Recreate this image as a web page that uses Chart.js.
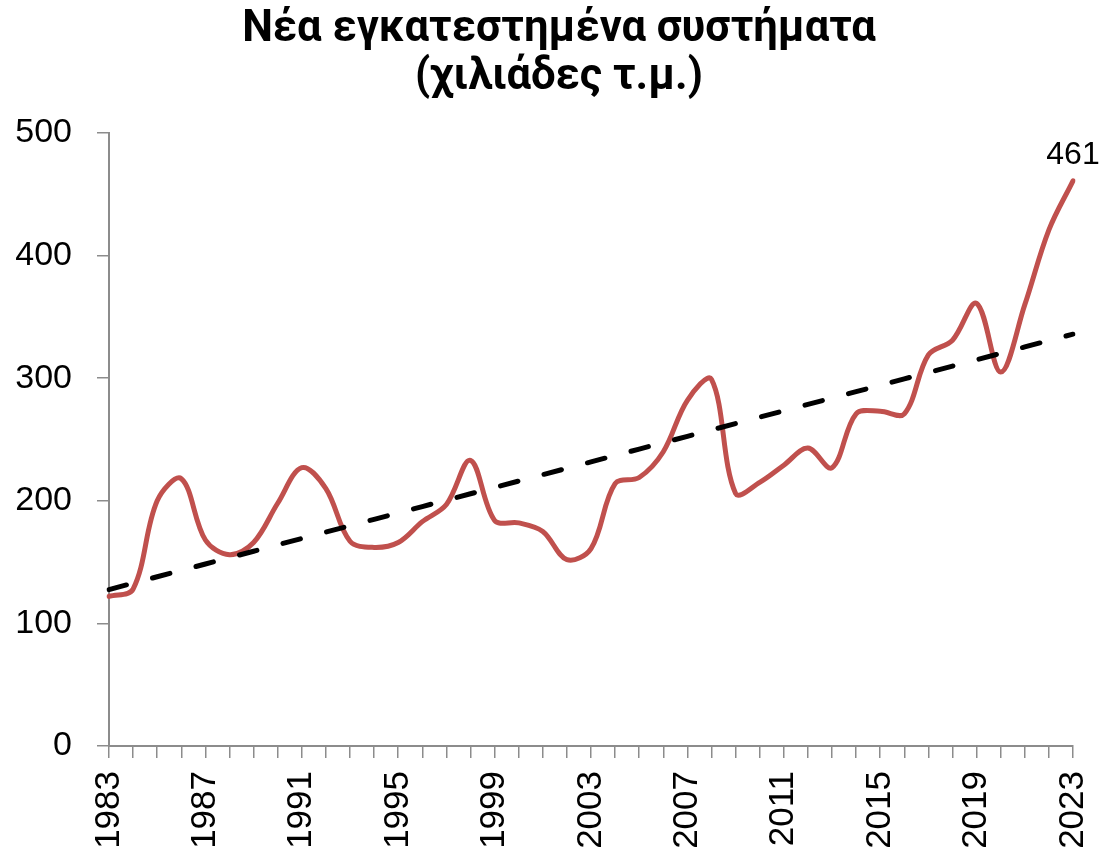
<!DOCTYPE html>
<html>
<head>
<meta charset="utf-8">
<script src="https://cdn.jsdelivr.net/npm/chart.js@4.4.1/dist/chart.umd.min.js"></script>
<style>
  html, body { margin: 0; padding: 0; background: #fff; }
  #wrap { width: 1102px; height: 850px; }
</style>
</head>
<body>
<div id="wrap"><canvas id="chart"></canvas></div>
<script>
const years = [];
for (let y = 1983; y <= 2023; y++) years.push(String(y));

// thousands of m2 installed
const installed = [
  122, 128, 200, 218, 168, 156, 166, 198, 227, 210,
  167, 162, 166, 183, 197, 233, 184, 182, 175, 152,
  161, 214, 219, 240, 282, 299, 206, 215, 229, 243,
  227, 271, 273, 271, 319, 331, 361, 305, 360, 421,
  461
];

const yTicks = [0, 100, 200, 300, 400, 500];
const titleLines = ['Νέα εγκατεστημένα συστήματα', '(χιλιάδες τ.μ.)'];

// least squares trend, like the Excel linear trendline
const n = installed.length;
let sx = 0, sy = 0, sxy = 0, sxx = 0;
installed.forEach((v, i) => { sx += i; sy += v; sxy += i * v; sxx += i * i; });
const slope = (n * sxy - sx * sy) / (n * sxx - sx * sx);
const icept = (sy - slope * sx) / n;
const trend = installed.map((v, i) => icept + slope * i);

const axisGrey = '#8c8c8c';

// title drawn by hand so it can sit a little right of centre like the original
const titlePlugin = {
  id: 'titleText',
  afterDraw(chart) {
    const ctx = chart.ctx;
    ctx.save();
    ctx.font = 'bold 43.5px Roboto, "Noto Sans", sans-serif';
    ctx.fillStyle = '#000';
    ctx.textAlign = 'center';
    ctx.textBaseline = 'alphabetic';
    ctx.fillText(titleLines[0], 559, 41);
    ctx.fillText(titleLines[1], 559, 89);
    ctx.restore();
  }
};

const lastLabel = {
  id: 'lastLabel',
  afterDatasetsDraw(chart) {
    const meta = chart.getDatasetMeta(0);
    const pt = meta.data[meta.data.length - 1];
    const ctx = chart.ctx;
    ctx.save();
    ctx.font = '32px "Liberation Sans", Arial, sans-serif';
    ctx.fillStyle = '#000';
    ctx.textAlign = 'center';
    ctx.textBaseline = 'bottom';
    ctx.fillText(String(installed[installed.length - 1]), pt.x, pt.y - 10);
    ctx.restore();
  }
};

new Chart(document.getElementById('chart'), {
  type: 'line',
  data: {
    labels: years,
    datasets: [{
      data: installed,
      borderColor: '#C0504D',
      borderWidth: 5,
      pointRadius: 0,
      tension: 0.35,
      borderCapStyle: 'round',
      order: 1
    }, {
      data: trend,
      borderColor: '#000',
      borderWidth: 5,
      borderDash: [18, 27],
      borderCapStyle: 'round',
      pointRadius: 0,
      tension: 0,
      order: 0
    }]
  },
  options: {
    responsive: true,
    maintainAspectRatio: false,
    animation: false,
    layout: { padding: { top: 133, right: 29, left: 0, bottom: 0 } },
    plugins: {
      legend: { display: false },
      tooltip: { enabled: false },
      title: { display: false }
    },
    scales: {
      x: {
        type: 'category',
        offset: false,
        afterFit: s => { s.paddingRight = 0; s.paddingLeft = 0; s.height = 104; },
        grid: {
          offset: false,
          drawOnChartArea: false,
          drawTicks: true,
          tickLength: 12,
          color: axisGrey,
          lineWidth: 1.5
        },
        border: { color: axisGrey, width: 2 },
        ticks: {
          autoSkip: false,
          maxRotation: 90,
          minRotation: 90,
          color: '#000',
          padding: 13,
          font: { family: '"Liberation Sans", Arial, sans-serif', size: 35 },
          callback: (v, i) => (i % 4 === 0 ? years[i] : '')
        }
      },
      y: {
        min: 0,
        max: 500,
        afterBuildTicks: axis => { axis.ticks = yTicks.map(v => ({ value: v })); },
        afterFit: s => { s.width = 109; },
        grid: {
          drawOnChartArea: false,
          drawTicks: true,
          tickLength: 12,
          color: axisGrey,
          lineWidth: 1.5
        },
        border: { color: axisGrey, width: 2 },
        ticks: {
          color: '#000',
          padding: 25,
          font: { family: '"Liberation Sans", Arial, sans-serif', size: 34 }
        }
      }
    }
  },
  plugins: [titlePlugin, lastLabel]
});
</script>
</body>
</html>
